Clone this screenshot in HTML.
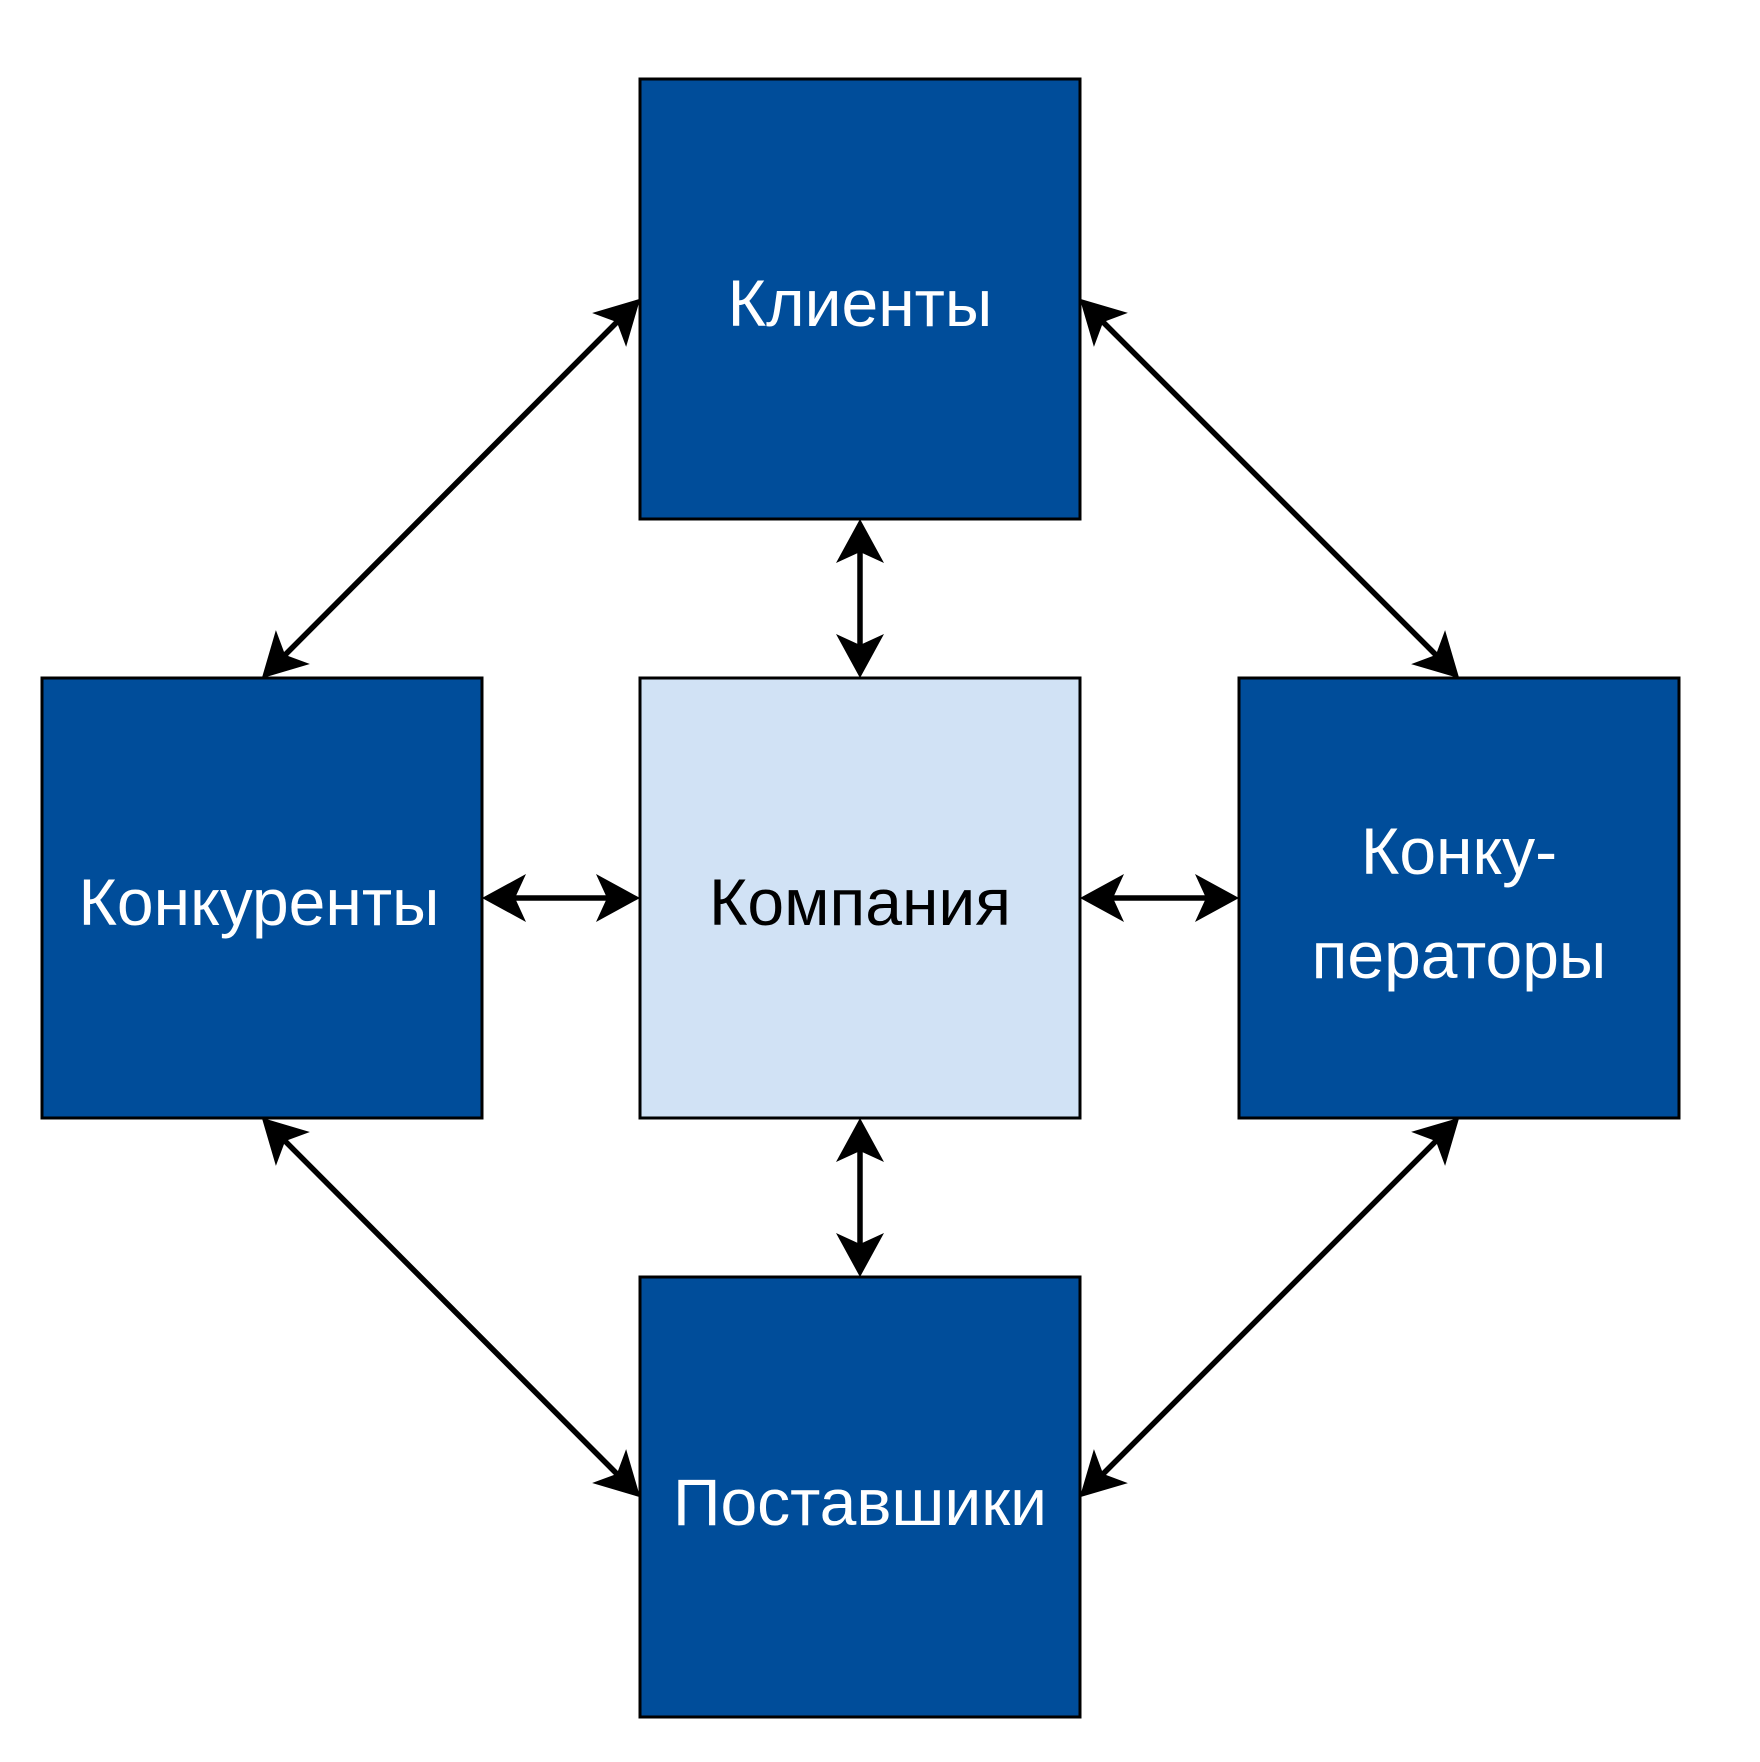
<!DOCTYPE html>
<html><head><meta charset="utf-8"><style>
html,body{margin:0;padding:0;background:#fff;}
svg{display:block}
text{font-family:"Liberation Sans",Arial,sans-serif;font-size:66px;text-anchor:middle;dominant-baseline:central}
</style></head><body>
<svg width="1760" height="1762" viewBox="0 0 1760 1762" xmlns="http://www.w3.org/2000/svg">
<defs>
<marker id="a" markerUnits="userSpaceOnUse" orient="auto-start-reverse" refX="-30" refY="0" markerWidth="100" markerHeight="100" overflow="visible">
<path d="M0,0 L-44,-24 L-33,0 L-44,24 Z" fill="#000"/>
</marker>
</defs>
<g stroke="#000" stroke-width="3">
<rect x="640" y="79" width="440" height="440" fill="#004d9a"/>
<rect x="42" y="678" width="440" height="440" fill="#004d9a"/>
<rect x="640" y="678" width="440" height="440" fill="#d1e2f5"/>
<rect x="1239" y="678" width="440" height="440" fill="#004d9a"/>
<rect x="640" y="1277" width="440" height="440" fill="#004d9a"/>
</g>
<g stroke="#000" stroke-width="5.5" marker-start="url(#a)" marker-end="url(#a)">
<line x1="860" y1="549" x2="860" y2="648"/>
<line x1="860" y1="1148" x2="860" y2="1247"/>
<line x1="512" y1="898" x2="610" y2="898"/>
<line x1="1110" y1="898" x2="1209" y2="898"/>
<line x1="619" y1="320" x2="283" y2="657"/>
<line x1="1101" y1="320" x2="1438" y2="657"/>
<line x1="283" y1="1139" x2="619" y2="1476"/>
<line x1="1438" y1="1139" x2="1101" y2="1476"/>
</g>
<text x="860" y="303" fill="#fff">Клиенты</text>
<text x="259" y="902" fill="#fff">Конкуренты</text>
<text x="860" y="902" fill="#000">Компания</text>
<text x="1459" y="851" fill="#fff">Конку-</text>
<text x="1459" y="955" fill="#fff">ператоры</text>
<text x="860" y="1502" fill="#fff">Поставшики</text>
</svg>
</body></html>
